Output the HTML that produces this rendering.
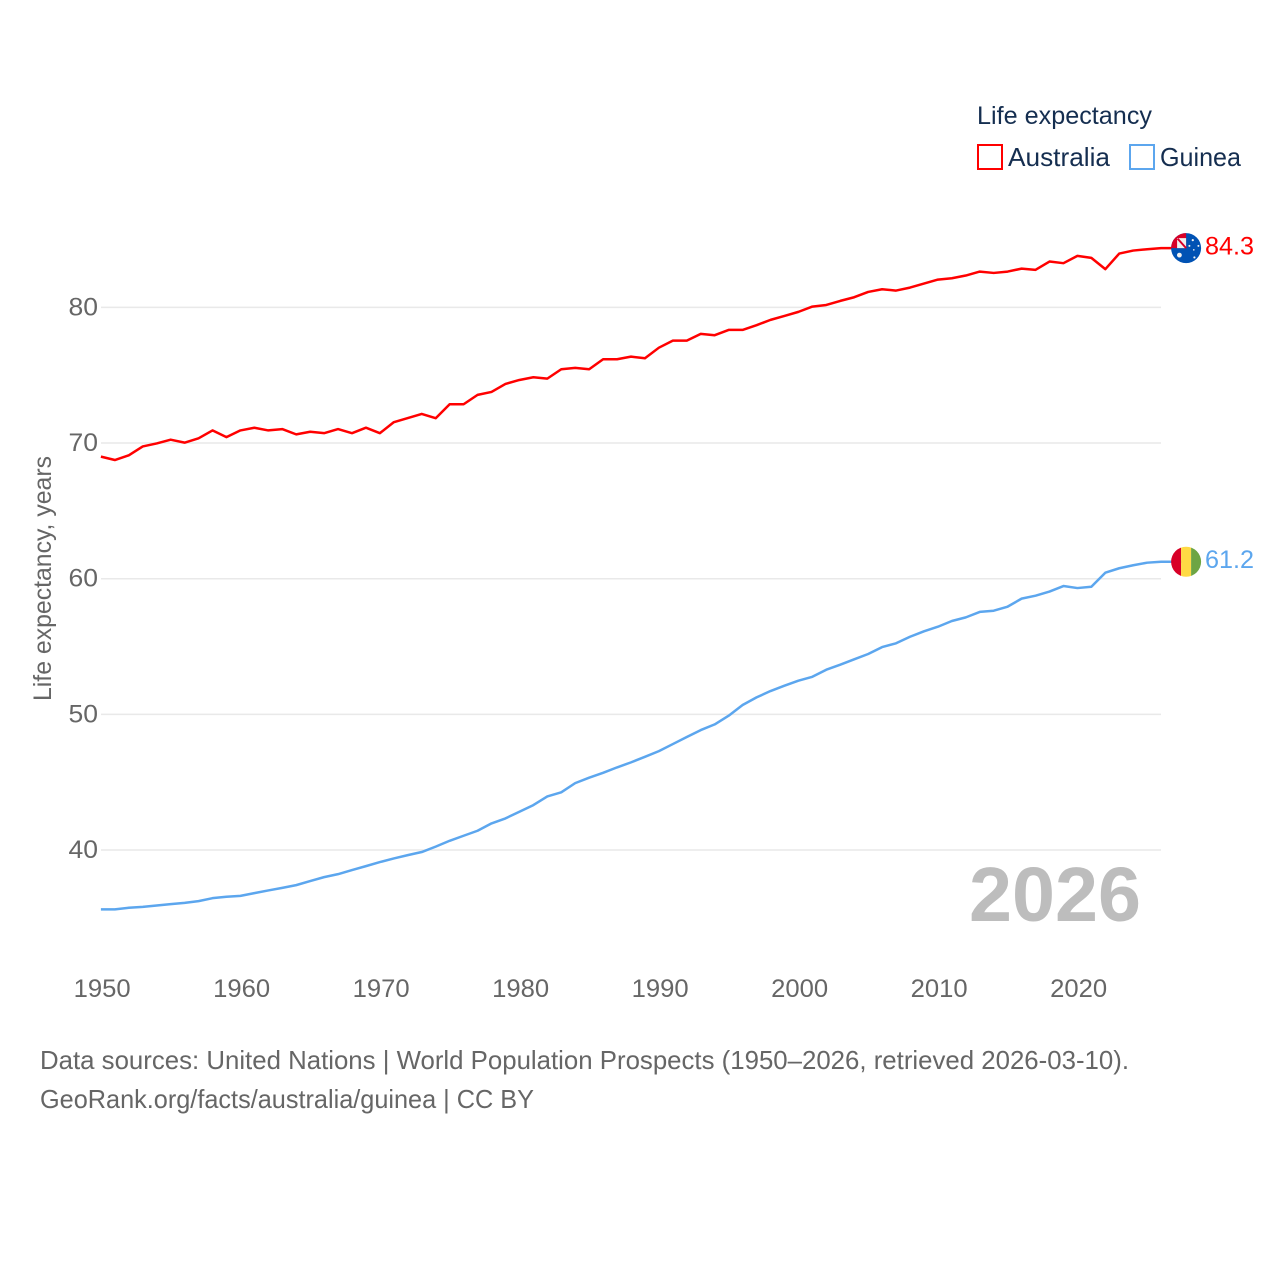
<!DOCTYPE html>
<html lang="en">
<head>
<meta charset="utf-8">
<title>Life expectancy: Australia and Guinea</title>
<style>
html,body{margin:0;padding:0;background:#fff;width:1280px;height:1280px;overflow:hidden}
svg{display:block}
text{font-family:"Liberation Sans",sans-serif}
</style>
</head>
<body>
<svg id="chart" width="1280" height="1280" viewBox="0 0 1280 1280" xmlns="http://www.w3.org/2000/svg">
  <defs>
    <clipPath id="flag-clip-au"><circle cx="0" cy="0" r="15"></circle></clipPath>
    <clipPath id="flag-clip-gn"><circle cx="0" cy="0" r="15"></circle></clipPath>
  </defs>
  <rect x="0" y="0" width="1280" height="1280" fill="#ffffff"></rect>
  <g id="grid"></g>
  <g id="yticks"></g>
  <g id="xticks"></g>
  <text transform="translate(51,701) rotate(-90)" font-size="25" fill="#666666" textLength="245" lengthAdjust="spacingAndGlyphs">Life expectancy, years</text>
  <text x="969" y="921" font-size="77" font-weight="bold" fill="#bdbdbd" textLength="172" lengthAdjust="spacingAndGlyphs">2026</text>
  <g id="series"></g>
  <g id="flag-au">
    <g clip-path="url(#flag-clip-au)">
      <rect x="-16" y="-16" width="32" height="32" fill="#0052b4"></rect>
      <path d="M0 0H-16V-16H0Z" fill="#d80027"></path>
      <path d="M0 0H-9V-10H0Z" fill="#f0f0f0"></path>
      <path d="M-8.5 -9.5L0 0" stroke="#d80027" stroke-width="2" fill="none"></path>
      <circle cx="-6.7" cy="7" r="2.4" fill="#f0f0f0"></circle>
      <circle cx="6.7" cy="-8" r="1.1" fill="#f0f0f0"></circle>
      <circle cx="12.3" cy="-2.3" r="1" fill="#f0f0f0"></circle>
      <circle cx="3.3" cy="-2.3" r="1" fill="#f0f0f0"></circle>
      <circle cx="7.7" cy="1.7" r="0.8" fill="#f0f0f0"></circle>
      <circle cx="8.3" cy="9.3" r="1.1" fill="#f0f0f0"></circle>
    </g>
  </g>
  <g id="flag-gn">
    <g clip-path="url(#flag-clip-gn)">
      <rect x="-16" y="-16" width="11" height="32" fill="#d80027"></rect>
      <rect x="-5" y="-16" width="10" height="32" fill="#ffda44"></rect>
      <rect x="5" y="-16" width="11" height="32" fill="#6da544"></rect>
    </g>
  </g>
  <g id="end-labels"></g>

  <g>
    <text x="977" y="124" font-size="25" fill="#152e50" textLength="175" lengthAdjust="spacingAndGlyphs">Life expectancy</text>
    <g>
      <rect x="978" y="145" width="24" height="24" fill="#ffffff" stroke="#ff0000" stroke-width="2"></rect>
      <text x="1008" y="166" font-size="26" fill="#152e50" textLength="102" lengthAdjust="spacingAndGlyphs">Australia</text>
    </g>
    <g>
      <rect x="1130" y="145" width="24" height="24" fill="#ffffff" stroke="#5ca6ee" stroke-width="2"></rect>
      <text x="1160" y="166" font-size="26" fill="#152e50" textLength="81" lengthAdjust="spacingAndGlyphs">Guinea</text>
    </g>
  </g>

  <text x="40" y="1069" font-size="26" fill="#666666" textLength="1089" lengthAdjust="spacingAndGlyphs">Data sources: United Nations | World Population Prospects (1950–2026, retrieved 2026-03-10).</text>
  <text x="40" y="1108" font-size="26" fill="#666666" textLength="494" lengthAdjust="spacingAndGlyphs">GeoRank.org/facts/australia/guinea | CC BY</text>
</svg>
<script>
const firstYear = 1950;
const yTickValues = [40, 50, 60, 70, 80];
const xTickValues = [1950, 1960, 1970, 1980, 1990, 2000, 2010, 2020];
const australiaValues = [
  69.00, 68.75, 69.10, 69.75, 69.97, 70.25, 70.03, 70.35, 70.93, 70.44,
  70.93, 71.13, 70.93, 71.03, 70.64, 70.83, 70.73, 71.03, 70.73, 71.13,
  70.73, 71.54, 71.84, 72.15, 71.83, 72.86, 72.86, 73.55, 73.77, 74.36,
  74.65, 74.85, 74.75, 75.44, 75.54, 75.44, 76.18, 76.18, 76.37, 76.25,
  77.03, 77.55, 77.55, 78.05, 77.95, 78.34, 78.34, 78.69, 79.08, 79.37,
  79.67, 80.06, 80.18, 80.48, 80.75, 81.14, 81.34, 81.24, 81.46, 81.76,
  82.05, 82.15, 82.35, 82.64, 82.54, 82.64, 82.86, 82.77, 83.38, 83.26,
  83.80, 83.65, 82.82, 83.97, 84.19, 84.29, 84.37
];
const guineaValues = [
  35.62, 35.62, 35.74, 35.81, 35.91, 36.01, 36.10, 36.23, 36.45, 36.55,
  36.62, 36.82, 37.02, 37.21, 37.41, 37.71, 38.00, 38.22, 38.52, 38.81,
  39.11, 39.38, 39.62, 39.85, 40.25, 40.68, 41.05, 41.42, 41.96, 42.33,
  42.82, 43.31, 43.95, 44.25, 44.93, 45.33, 45.69, 46.09, 46.46, 46.87,
  47.29, 47.81, 48.33, 48.84, 49.26, 49.90, 50.69, 51.25, 51.72, 52.11,
  52.48, 52.77, 53.29, 53.66, 54.06, 54.45, 54.96, 55.24, 55.72, 56.12,
  56.46, 56.88, 57.15, 57.55, 57.64, 57.94, 58.53, 58.75, 59.05, 59.46,
  59.31, 59.41, 60.44, 60.77, 60.99, 61.18, 61.25
];
const australiaEndLabel = "84.3";
const guineaEndLabel = "61.2";

const SVG_NS = "http://www.w3.org/2000/svg";
const plotLeft = 100.9;
const pxPerYear = 13.95;
const y80 = 307.4;
const pxPerUnit = 13.565;
const gridLeft = 101;
const gridRight = 1161;
const flagOffsetX = 25;

function xScale(year) { return plotLeft + (year - firstYear) * pxPerYear; }
function yScale(value) { return y80 + (80 - value) * pxPerUnit; }
function make(tag, parentId, attrs) {
  const el = document.createElementNS(SVG_NS, tag);
  for (const k in attrs) el.setAttribute(k, attrs[k]);
  document.getElementById(parentId).appendChild(el);
  return el;
}

yTickValues.forEach(function (v) {
  const line = make("line", "grid", { x1: gridLeft, x2: gridRight, y1: yScale(v), y2: yScale(v), stroke: "#e9e9e9", "stroke-width": 1.5 });
  
  
  const label = make("text", "yticks", { x: 98, y: yScale(v) + 8, "text-anchor": "end", "font-size": 25, fill: "#666666", textLength: 29.5, lengthAdjust: "spacingAndGlyphs" });
  
  
  label.textContent = String(v);
});

xTickValues.forEach(function (yr) {
  const label = make("text", "xticks", { x: xScale(yr) + 1.3, y: 997, "text-anchor": "middle", "font-size": 25, fill: "#666666", textLength: 57, lengthAdjust: "spacingAndGlyphs" });
  
  
  label.textContent = String(yr);
});

function pointsOf(values) {
  return values.map(function (v, i) {
    return xScale(firstYear + i).toFixed(2) + "," + yScale(v).toFixed(2);
  }).join(" ");
}
function drawSeries(values, color) {
  const lastX = xScale(firstYear + values.length - 1);
  const lastY = yScale(values[values.length - 1]);
  const pts = pointsOf(values) + " " + (lastX + flagOffsetX).toFixed(2) + "," + lastY.toFixed(2);
  return make("polyline", "series", { points: pts, fill: "none", stroke: color, "stroke-width": 2.5, "stroke-linejoin": "round" });
}
const auLine = drawSeries(australiaValues, "#ff0000");


const gnLine = drawSeries(guineaValues, "#5ca6ee");



function placeEnd(flagId, values, text, color) {
  const lastX = xScale(firstYear + values.length - 1);
  const lastY = yScale(values[values.length - 1]);
  document.getElementById(flagId).setAttribute("transform", "translate(" + (lastX + flagOffsetX).toFixed(2) + "," + lastY.toFixed(2) + ")");
  const label = make("text", "end-labels", { x: 1205, y: lastY + 6.5, "font-size": 25, fill: color, textLength: 49, lengthAdjust: "spacingAndGlyphs" });
  label.textContent = text;
  return label;
}
const auEnd = placeEnd("flag-au", australiaValues, australiaEndLabel, "#ff0000");


const gnEnd = placeEnd("flag-gn", guineaValues, guineaEndLabel, "#5ca6ee");


</script>
</body>
</html>
